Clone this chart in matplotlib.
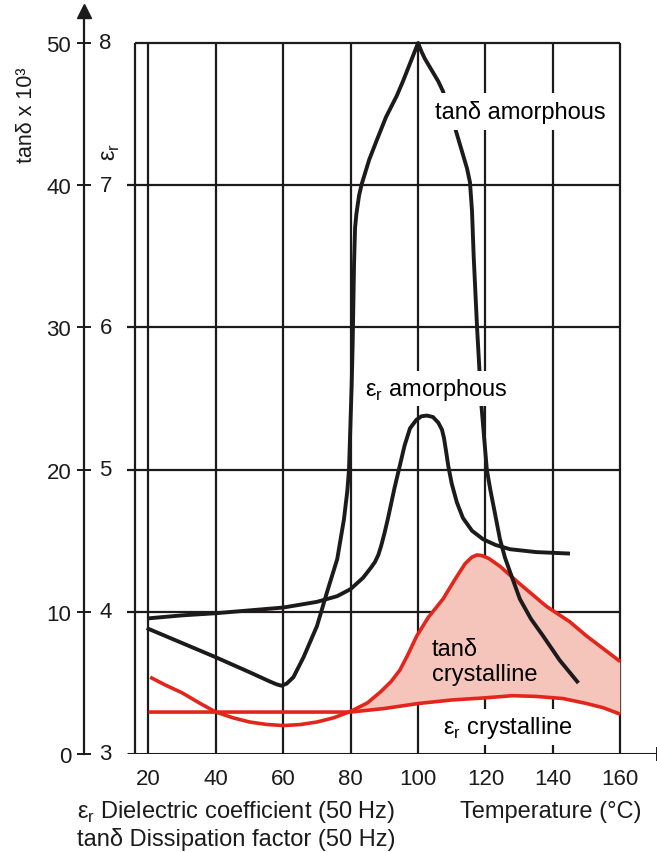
import matplotlib
matplotlib.use("Agg")
import matplotlib.pyplot as plt
import numpy as np

plt.rcParams['font.family'] = ['Liberation Sans', 'DejaVu Sans']
plt.rcParams['mathtext.fontset'] = 'custom'
plt.rcParams['mathtext.rm'] = 'Liberation Sans'

# axis ticks
temp_ticks = [20, 40, 60, 80, 100, 120, 140, 160]
tan_ticks = [0, 10, 20, 30, 40, 50]
er_ticks = [3, 4, 5, 6, 7, 8]

# tan delta, amorphous (x 10^3)
tan_am_T = [20, 30, 40, 50, 56, 58, 59.5, 61, 63, 66, 70, 73, 76, 78, 79, 79.5, 79.9,
            80.3, 80.6, 81.0, 81.3, 81.7, 82.5, 83.3, 85.5, 87.8, 90.5, 93.7, 95.5,
            97, 98.5, 100, 101, 102, 104.5, 106, 107.4, 109, 111, 113.5, 114.5,
            115.4, 116, 116.5, 117.5, 118.8, 120.4, 121.5, 122.5, 124.3, 125.8,
            127.3, 130.2, 133.5, 137.1, 142, 147.2]
tan_am = [8.8, 7.8, 6.8, 5.75, 5.1, 4.9, 4.8, 4.95, 5.4, 6.8, 9.0, 11.4, 13.7, 16.5,
          18.5, 20, 23, 26, 29, 34.5, 37, 38.0, 39.3, 40.1, 41.8, 43.2, 44.8, 46.3,
          47.3, 48.2, 49.1, 50, 49.4, 48.9, 47.9, 47.3, 46.6, 45.4, 44, 42, 41.2,
          40.2, 38.2, 35, 30, 24.5, 20, 18.5, 17.3, 15.1, 13.8, 12.8, 10.9, 9.5, 8.3,
          6.6, 5.1]

# epsilon_r, amorphous
er_am_T = [20.5, 30, 40, 50, 60, 70, 76, 80, 83.7, 86, 87.2, 88.2, 89, 90, 91, 92,
           93, 94.6, 96, 97.6, 99.5, 101, 102.6, 104.4, 106, 107.1, 107.7, 108.3,
           109, 110, 111.5, 113.3, 116, 119.3, 123, 127.3, 135, 144.5]
er_am = [3.955, 3.975, 3.99, 4.01, 4.03, 4.07, 4.11, 4.16, 4.24, 4.31, 4.35, 4.4, 4.46,
         4.55, 4.65, 4.76, 4.87, 5.03, 5.17, 5.29, 5.35, 5.375, 5.38, 5.37, 5.33, 5.28,
         5.22, 5.13, 5.02, 4.9, 4.77, 4.66, 4.57, 4.51, 4.47, 4.44, 4.42, 4.41]

# tan delta, crystalline (x 10^3)
tan_cr_T = [20.5, 25, 30, 35, 40, 45, 50, 55, 60, 65, 70, 75, 80, 85, 89, 92, 94.6,
            97, 99.6, 103, 107.4, 111, 114, 116, 117.5, 119, 121, 124.3, 130, 138,
            145, 150, 155, 160]
tan_cr = [5.4, 4.85, 4.3, 3.6, 2.95, 2.55, 2.25, 2.08, 2.0, 2.07, 2.25, 2.55, 3.0,
          3.6, 4.4, 5.1, 5.9, 7.0, 8.3, 9.6, 10.9, 12.3, 13.4, 13.85, 14.0, 13.95,
          13.75, 13.2, 12.0, 10.4, 9.3, 8.3, 7.4, 6.5]

# epsilon_r, crystalline
er_cr_T = [20, 80, 90, 100, 110, 120, 128, 135, 143, 150, 155, 160]
er_cr = [3.295, 3.295, 3.32, 3.355, 3.38, 3.395, 3.41, 3.405, 3.39, 3.355, 3.325,
         3.28]


def er_to_tan(v):
    # both scales share the same vertical axis: 3..8 <-> 0..50
    return (np.asarray(v) - 3) * 10


black = '#1c1a1b'
red = '#e2261c'
pink = '#f5c4ba'

W, H = 657, 853
fig = plt.figure(figsize=(W / 100, H / 100), dpi=100)
ax = fig.add_axes([84 / W, (H - 755) / H, (W - 84) / W, (755 - 12) / H])
ax.set_xlim(0.86, 170.9)
ax.set_ylim(0, 52.25)

# grid and frame
ax.vlines(temp_ticks, 0, 50, color=black, lw=1.6, zorder=1)
ax.vlines(16, 0, 50, color=black, lw=1.6, zorder=1)
ax.hlines(tan_ticks[1:-1], 13.6, 160, color=black, lw=1.6, zorder=1)
ax.hlines(50, 16, 160, color=black, lw=1.6, zorder=1)
ax.hlines(0, 13.6, 170.9, color=black, lw=2.2, zorder=1)
ax.plot([1], [0], marker='|', ms=10, mew=1.4, color=black,
        transform=ax.transAxes, clip_on=False)

# shaded area between the crystalline curves
tc_T = np.array(tan_cr_T)
ec_T = np.array(er_cr_T)
poly_x = np.concatenate([tc_T[tc_T >= 80], ec_T[ec_T >= 80][::-1]])
poly_y = np.concatenate([np.array(tan_cr)[tc_T >= 80],
                         er_to_tan(er_cr)[ec_T >= 80][::-1]])
ax.fill(poly_x, poly_y, color=pink, lw=0, zorder=1.5)

ax.plot(tan_cr_T, tan_cr, color=red, lw=2.6, zorder=3, solid_capstyle='butt',
        solid_joinstyle='round')
ax.plot(er_cr_T, er_to_tan(er_cr), color=red, lw=2.6, zorder=3,
        solid_capstyle='butt', solid_joinstyle='round')
ax.plot(er_am_T, er_to_tan(er_am), color=black, lw=2.8, zorder=3.5,
        solid_joinstyle='round')
ax.plot(tan_am_T, tan_am, color=black, lw=2.8, zorder=3.5, solid_joinstyle='round')

# curve labels
ax.text(105.0, 45.2, 'tanδ amorphous', fontsize=17, va='center', ha='left',
        bbox=dict(boxstyle='square,pad=0.3', fc='white', ec='none'), zorder=5)
ax.text(84.3, 25.7, 'ε$_\\mathregular{r}$ amorphous', fontsize=17, va='center',
        ha='left', bbox=dict(boxstyle='square,pad=0.2', fc='white', ec='none'),
        zorder=5)
ax.text(104.1, 6.5, 'tanδ\ncrystalline', fontsize=17, va='center', ha='left',
        linespacing=1.2, zorder=5)
ax.text(107.4, 1.9, 'ε$_\\mathregular{r}$ crystalline', fontsize=17, va='center',
        ha='left', bbox=dict(boxstyle='square,pad=0.2', fc='white', ec='none'),
        zorder=5)

# axes styling
for s in ['top', 'right', 'bottom']:
    ax.spines[s].set_visible(False)
ax.spines['left'].set_linewidth(1.6)
ax.spines['left'].set_color(black)
ax.spines['left'].set_bounds(0, 52.25)
ax.plot([0], [1], marker='^', ms=10, color=black, transform=ax.transAxes,
        clip_on=False)

ax.set_yticks(tan_ticks)
ax.set_yticklabels([str(t) for t in tan_ticks])
ax.tick_params(axis='y', direction='inout', length=10.5, width=1.4, pad=4,
               labelsize=16, colors=black)
for t, e in zip(tan_ticks, er_ticks):
    ax.text(0.027, t, str(e), transform=ax.get_yaxis_transform(), fontsize=16,
            va='center', ha='left', color=black)

ax.set_xticks(temp_ticks)
ax.set_xticklabels([str(t) for t in temp_ticks])
ax.tick_params(axis='x', length=0, pad=10, labelsize=16, colors=black)

fig.text(27 / W, 1 - 115 / H, 'tanδ x 10³', rotation=90, fontsize=15.5,
         ha='center', va='center', color=black)
fig.text(111 / W, 1 - 152 / H, 'ε$_\\mathregular{r}$', rotation=90, fontsize=17,
         ha='center', va='center', color=black)

fig.text(77 / W, 1 - 812 / H, 'ε$_\\mathregular{r}$ Dielectric coefficient (50 Hz)',
         fontsize=17, ha='left', va='center', color=black)
fig.text(77 / W, 1 - 840 / H, 'tanδ Dissipation factor (50 Hz)', fontsize=17,
         ha='left', va='center', color=black)
fig.text(460 / W, 1 - 812 / H, 'Temperature (°C)', fontsize=17, ha='left',
         va='center', color=black)

fig.savefig('out.png', dpi=100)
